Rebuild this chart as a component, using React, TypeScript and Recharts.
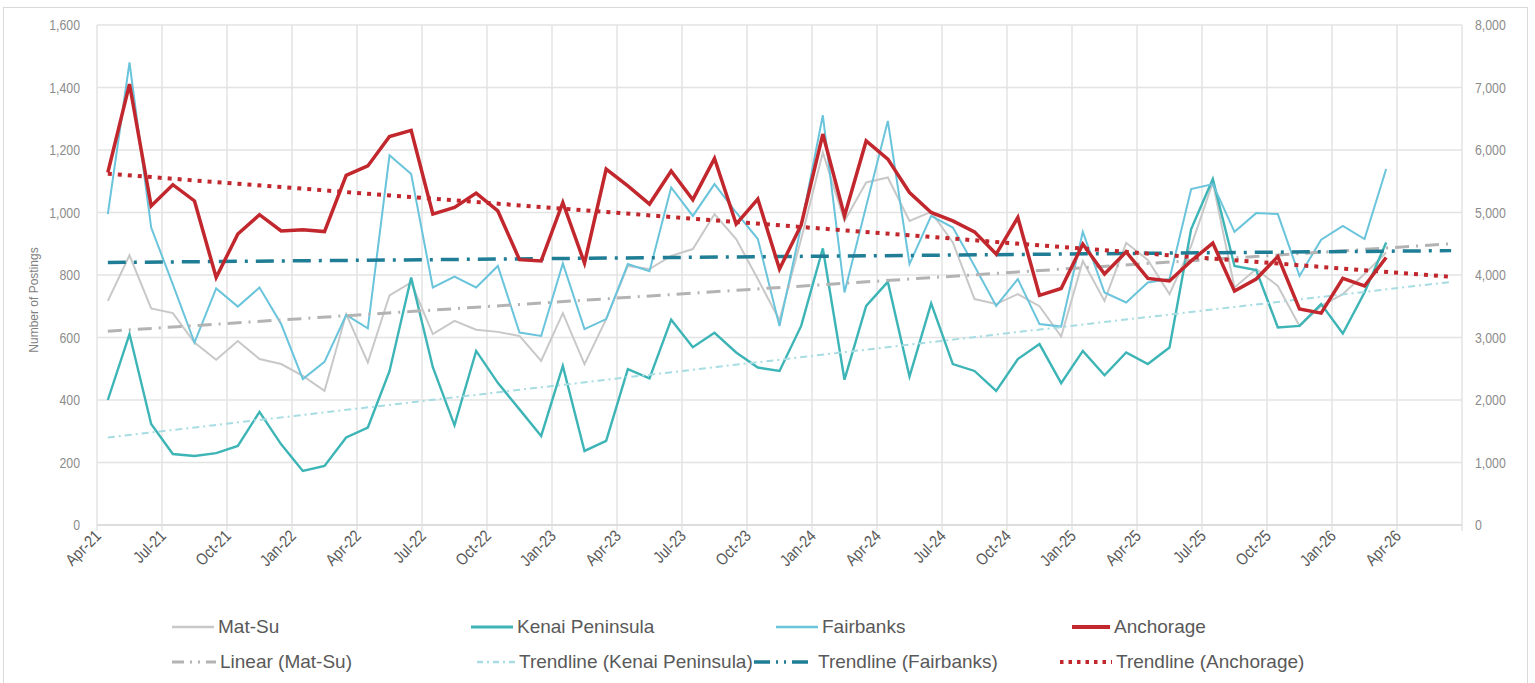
import React from 'react';
import { LineChart, Line, XAxis, YAxis, CartesianGrid } from 'recharts';

const months = [
  'Apr-21','May-21','Jun-21','Jul-21','Aug-21','Sep-21','Oct-21','Nov-21','Dec-21',
  'Jan-22','Feb-22','Mar-22','Apr-22','May-22','Jun-22','Jul-22','Aug-22','Sep-22','Oct-22','Nov-22','Dec-22',
  'Jan-23','Feb-23','Mar-23','Apr-23','May-23','Jun-23','Jul-23','Aug-23','Sep-23','Oct-23','Nov-23','Dec-23',
  'Jan-24','Feb-24','Mar-24','Apr-24','May-24','Jun-24','Jul-24','Aug-24','Sep-24','Oct-24','Nov-24','Dec-24',
  'Jan-25','Feb-25','Mar-25','Apr-25','May-25','Jun-25','Jul-25','Aug-25','Sep-25','Oct-25','Nov-25','Dec-25',
  'Jan-26','Feb-26','Mar-26','Apr-26','May-26','Jun-26',
];

const tickLabels = [
  'Apr-21','Jul-21','Oct-21','Jan-22','Apr-22','Jul-22','Oct-22','Jan-23','Apr-23','Jul-23','Oct-23',
  'Jan-24','Apr-24','Jul-24','Oct-24','Jan-25','Apr-25','Jul-25','Oct-25','Jan-26','Apr-26','',
];

const matSu = [
  717, 863, 693, 678, 584, 529, 589, 531, 515, 477, 429, 675, 520, 735, 776, 611, 653, 625, 618, 605,
  525, 678, 515, 659, 829, 819, 861, 883, 995, 915, 787, 655, 915, 1192, 973, 1096, 1112, 973, 1002, 904,
  723, 707, 739, 700, 603, 845, 717, 903, 848, 739, 893, 1096, 760, 819, 765, 637, 701, 739, 803, 872,
];

const kenai = [
  400, 611, 323, 227, 221, 230, 253, 362, 258, 173, 189, 280, 312, 492, 792, 505, 319, 557, 455, 370,
  285, 509, 237, 269, 499, 469, 657, 569, 615, 552, 504, 493, 637, 885, 465, 701, 778, 475, 709, 515,
  493, 429, 531, 579, 454, 557, 479, 552, 515, 568, 947, 1107, 829, 816, 632, 637, 707, 613, 744, 904,
];

const fairbanks = [
  995, 1480, 952, 770, 584, 757, 699, 760, 643, 467, 522, 672, 629, 1183, 1123, 760, 795, 760, 829, 616,
  605, 837, 627, 659, 835, 812, 1080, 989, 1091, 1000, 915, 637, 957, 1311, 744, 1020, 1293, 835, 989, 952,
  829, 701, 787, 643, 635, 938, 744, 712, 776, 787, 1075, 1091, 938, 998, 995, 797, 913, 957, 915, 1139,
];

// Anchorage is plotted on the right-hand axis (0 - 8,000)
const anchorage = [
  5640, 7055, 5105, 5445, 5185, 3960, 4655, 4965, 4705, 4725, 4695, 5595, 5745, 6215, 6315, 4975, 5080, 5310, 5025, 4245,
  4225, 5160, 4190, 5695, 5425, 5135, 5665, 5205, 5865, 4815, 5215, 4095, 4800, 6255, 4945, 6145, 5855, 5320, 5000, 4865,
  4690, 4335, 4920, 3675, 3785, 4495, 4015, 4370, 3945, 3905, 4225, 4510, 3745, 3935, 4295, 3455, 3390, 3945, 3825, 4280,
];

// Trendlines: value at the first month and at the end of the forecast (Jun-26)
const matSuTrend = [620, 900];
const kenaiTrend = [280, 778];
const fairbanksTrend = [840, 878];
const anchorageTrend = [5620, 3970];

const leftTicks = [0, 200, 400, 600, 800, 1000, 1200, 1400, 1600];
const rightTicks = [0, 1000, 2000, 3000, 4000, 5000, 6000, 7000, 8000];

const lastIndex = months.length - 1;
const pick = (arr: number[], i: number) => (i === 0 ? arr[0] : i === lastIndex ? arr[1] : null);

const data = months.map((month, i) => ({
  month,
  m: i + 0.5,
  matSu: matSu[i] ?? null,
  kenai: kenai[i] ?? null,
  fairbanks: fairbanks[i] ?? null,
  anchorage: anchorage[i] ?? null,
  matSuTrend: pick(matSuTrend, i),
  kenaiTrend: pick(kenaiTrend, i),
  fairbanksTrend: pick(fairbanksTrend, i),
  anchorageTrend: pick(anchorageTrend, i),
}));

const xTicks = tickLabels.map((_, k) => k * 3);

const FONT = "'Liberation Sans', Arial, sans-serif";

const C = {
  matSu: '#C8C8C8',
  kenai: '#3DB4B6',
  fairbanks: '#6AC4DB',
  anchorage: '#C1272D',
  matSuTrend: '#B3B3B3',
  kenaiTrend: '#A6DCE2',
  fairbanksTrend: '#1F7D95',
  anchorageTrend: '#C1272D',
};

const fmt = (v: number) => v.toLocaleString('en-US');

const XTick = (props: any) => {
  const { x, y, payload } = props;
  const label = tickLabels[Math.round(payload.value / 3)] ?? '';
  return (
    <g transform={`translate(${x + 5},${y + 4}) rotate(-45) scale(0.85,1)`}>
      <text x={0} y={0} textAnchor="end" fontSize={16.5} fill="#595959" fontFamily={FONT}>
        {label}
      </text>
    </g>
  );
};

const YTick = (props: any) => {
  const { x, y, payload, textAnchor } = props;
  return (
    <g transform={`translate(${x},${y}) scale(0.85,1)`}>
      <text x={0} y={0} dy="0.355em" textAnchor={textAnchor} fontSize={14.5} fill="#8C8C8C" fontFamily={FONT}>
        {fmt(payload.value)}
      </text>
    </g>
  );
};

type LegendItem = { name: string; color: string; width: number; dash?: string; left: number; row: number; sw: number };

const legendItems: LegendItem[] = [
  { name: 'Mat-Su', color: C.matSu, width: 2.5, left: 172, row: 0, sw: 42 },
  { name: 'Kenai Peninsula', color: C.kenai, width: 3, left: 471, row: 0, sw: 42 },
  { name: 'Fairbanks', color: C.fairbanks, width: 2.5, left: 776, row: 0, sw: 42 },
  { name: 'Anchorage', color: C.anchorage, width: 4, left: 1072, row: 0, sw: 38 },
  { name: 'Linear (Mat-Su)', color: C.matSuTrend, width: 3, dash: '12 6 2 6 2 6', left: 172, row: 1, sw: 44 },
  { name: 'Trendline (Kenai Peninsula)', color: C.kenaiTrend, width: 2.5, dash: '6 4 2 4', left: 477, row: 1, sw: 38 },
  { name: 'Trendline (Fairbanks)', color: C.fairbanksTrend, width: 3.5, dash: '16 6 2 6 2 6', left: 754, row: 1, sw: 60 },
  { name: 'Trendline (Anchorage)', color: C.anchorageTrend, width: 4, dash: '3.5 5', left: 1060, row: 1, sw: 52 },
];

const ChartLegend = () => (
  <div style={{ position: 'absolute', left: 0, top: 0, width: 1535, height: 683, pointerEvents: 'none' }}>
    {legendItems.map((it) => (
      <div
        key={it.name}
        style={{
          position: 'absolute',
          left: it.left,
          top: it.row === 0 ? 614 : 649,
          height: 26,
          display: 'flex',
          alignItems: 'center',
          fontFamily: FONT,
          fontSize: 19,
          color: '#595959',
          whiteSpace: 'nowrap',
        }}
      >
        <svg width={it.sw} height={10} style={{ marginRight: 4 }}>
          <line x1={0} y1={5} x2={it.sw} y2={5} stroke={it.color} strokeWidth={it.width} strokeDasharray={it.dash} />
        </svg>
        <span>{it.name}</span>
      </div>
    ))}
  </div>
);

export default function App() {
  return (
    <div style={{ position: 'absolute', left: 0, top: 0, width: 1535, height: 683, background: '#fff', overflow: 'hidden' }}>
      <div
        style={{
          position: 'absolute',
          left: 3,
          top: 7,
          width: 1525,
          height: 700,
          border: '1px solid #D9D9D9',
          boxSizing: 'border-box',
        }}
      />
      <div style={{ position: 'absolute', left: 0, top: 0 }}>
        <LineChart width={1535} height={683} data={data} margin={{ top: 25, right: 0, bottom: 0, left: 0 }}>
          <CartesianGrid yAxisId="left" stroke="#E3E3E3" strokeWidth={1.5} vertical horizontal />
          <XAxis
            dataKey="m"
            type="number"
            domain={[0, 63]}
            ticks={xTicks}
            interval={0}
            height={158}
            tick={<XTick />}
            tickLine={{ stroke: '#D9D9D9' }}
            tickSize={6}
            axisLine={{ stroke: '#D9D9D9', strokeWidth: 1.5 }}
            allowDecimals
          />
          <YAxis
            yAxisId="left"
            orientation="left"
            width={97}
            domain={[0, 1600]}
            ticks={leftTicks}
            interval={0}
            axisLine={false}
            tickLine={false}
            tickSize={0}
            tickMargin={17}
            tick={<YTick />}
            label={{
              content: () => (
                <text
                  x={38}
                  y={300}
                  transform="rotate(-90 38 300)"
                  textAnchor="middle"
                  fontSize={12}
                  fill="#7F7F7F"
                  fontFamily={FONT}
                >
                  Number of Postings
                </text>
              ),
            }}
          />
          <YAxis
            yAxisId="right"
            orientation="right"
            width={73}
            domain={[0, 8000]}
            ticks={rightTicks}
            interval={0}
            axisLine={false}
            tickLine={false}
            tickSize={0}
            tickMargin={13}
            tick={<YTick />}
          />
          <Line yAxisId="left" dataKey="matSu" stroke={C.matSu} strokeWidth={2} dot={false} activeDot={false} isAnimationActive={false} />
          <Line yAxisId="left" dataKey="kenai" stroke={C.kenai} strokeWidth={2.4} dot={false} activeDot={false} isAnimationActive={false} />
          <Line yAxisId="left" dataKey="fairbanks" stroke={C.fairbanks} strokeWidth={2} dot={false} activeDot={false} isAnimationActive={false} />
          <Line yAxisId="left" dataKey="matSuTrend" stroke={C.matSuTrend} strokeWidth={3} strokeDasharray="14 7 2 7" connectNulls dot={false} activeDot={false} isAnimationActive={false} />
          <Line yAxisId="left" dataKey="kenaiTrend" stroke={C.kenaiTrend} strokeWidth={2} strokeDasharray="7 4 2 4" connectNulls dot={false} activeDot={false} isAnimationActive={false} />
          <Line yAxisId="left" dataKey="fairbanksTrend" stroke={C.fairbanksTrend} strokeWidth={3.5} strokeDasharray="18 8 3 8" connectNulls dot={false} activeDot={false} isAnimationActive={false} />
          <Line yAxisId="right" dataKey="anchorage" stroke={C.anchorage} strokeWidth={3.5} dot={false} activeDot={false} isAnimationActive={false} />
          <Line yAxisId="right" dataKey="anchorageTrend" stroke={C.anchorageTrend} strokeWidth={4} strokeDasharray="4 6" connectNulls dot={false} activeDot={false} isAnimationActive={false} />
        </LineChart>
      </div>
      <ChartLegend />
    </div>
  );
}
